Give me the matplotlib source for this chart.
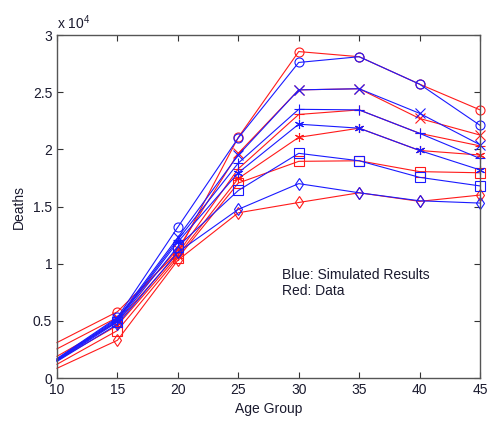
import matplotlib
matplotlib.use("Agg")
import matplotlib.pyplot as plt
from matplotlib.ticker import FuncFormatter

plt.rcParams['font.family'] = ['Liberation Sans', 'DejaVu Sans']
plt.rcParams['mathtext.default'] = 'regular'

age_groups = [10, 15, 20, 25, 30, 35, 40, 45]
# circle, cross, plus, asterisk, square, diamond
markers = ['o', 'x', '+', (6, 2, 0), 's', 'd']

# Simulated results (blue)
sim_o = [1700, 5300, 13200, 21000, 27600, 28100, 25700, 22100]
sim_x = [1650, 5200, 12300, 19500, 25200, 25300, 23150, 20400]
sim_plus = [1600, 5100, 12100, 18800, 23500, 23450, 21400, 19200]
sim_star = [1550, 5000, 11900, 17950, 22200, 21850, 19900, 18200]
sim_sq = [1500, 4900, 11500, 16400, 19650, 19000, 17550, 16800]
sim_dia = [1450, 4700, 11000, 14750, 17000, 16200, 15500, 15300]

# Observed data (red)
obs_o = [3100, 5800, 11000, 21050, 28550, 28100, 25700, 23450]
obs_x = [2550, 5300, 11300, 19650, 25200, 25300, 22700, 21250]
obs_plus = [1900, 4900, 10900, 18300, 23050, 23450, 21400, 20300]
obs_star = [1550, 4600, 10700, 17450, 21050, 21850, 19900, 19500]
obs_sq = [1200, 4150, 10500, 17050, 18950, 19000, 18050, 17950]
obs_dia = [850, 3300, 10300, 14450, 15350, 16200, 15450, 16000]

sim_series = [sim_o, sim_x, sim_plus, sim_star, sim_sq, sim_dia]
obs_series = [obs_o, obs_x, obs_plus, obs_star, obs_sq, obs_dia]

fig = plt.figure(figsize=(4.88, 4.26), dpi=100)
ax = fig.add_axes([57/488, 1-378/426, (480-57)/488, (378-35)/426])

mark_idx = list(range(1, len(age_groups)))
for m, obs in zip(markers, obs_series):
    ax.plot(age_groups, obs, color='#ff1a1a', lw=0.8, marker=m, ms=6.5,
            mfc='none', mec='#ff1a1a', mew=0.8, markevery=mark_idx,
            clip_on=False)
for m, sim in zip(markers, sim_series):
    ax.plot(age_groups, sim, color='#1a1aff', lw=0.8, marker=m, ms=6.5,
            mfc='none', mec='#1a1aff', mew=0.8, markevery=mark_idx,
            clip_on=False)

ax.set_xlim(10, 45)
ax.set_ylim(0, 30000)
ax.set_xticks(age_groups)
ax.set_yticks([0, 5000, 10000, 15000, 20000, 25000, 30000])
ax.yaxis.set_major_formatter(FuncFormatter(lambda v, p: '%g' % (v / 1e4)))
ax.tick_params(direction='in', top=True, right=True, length=4, width=0.8,
               labelsize=10, colors='#333333', labelcolor='#1a1a2e')
for s in ax.spines.values():
    s.set_color('#555555')
    s.set_linewidth(1.0)

ax.text(0.0, 1.008, r'x 10$^{4}$', transform=ax.transAxes, fontsize=10,
        ha='left', va='bottom', color='#1a1a2e')
ax.set_ylabel('Deaths', fontsize=10, labelpad=5, color='#1a1a2e')
ax.set_xlabel('Age Group', fontsize=10, labelpad=4, color='#1a1a2e')

ax.text(28.6, 8300, 'Blue: Simulated Results\nRed: Data', fontsize=10,
        ha='left', va='center', linespacing=1.25, color='#1a1a2e')

fig.savefig('out.png', dpi=100)
